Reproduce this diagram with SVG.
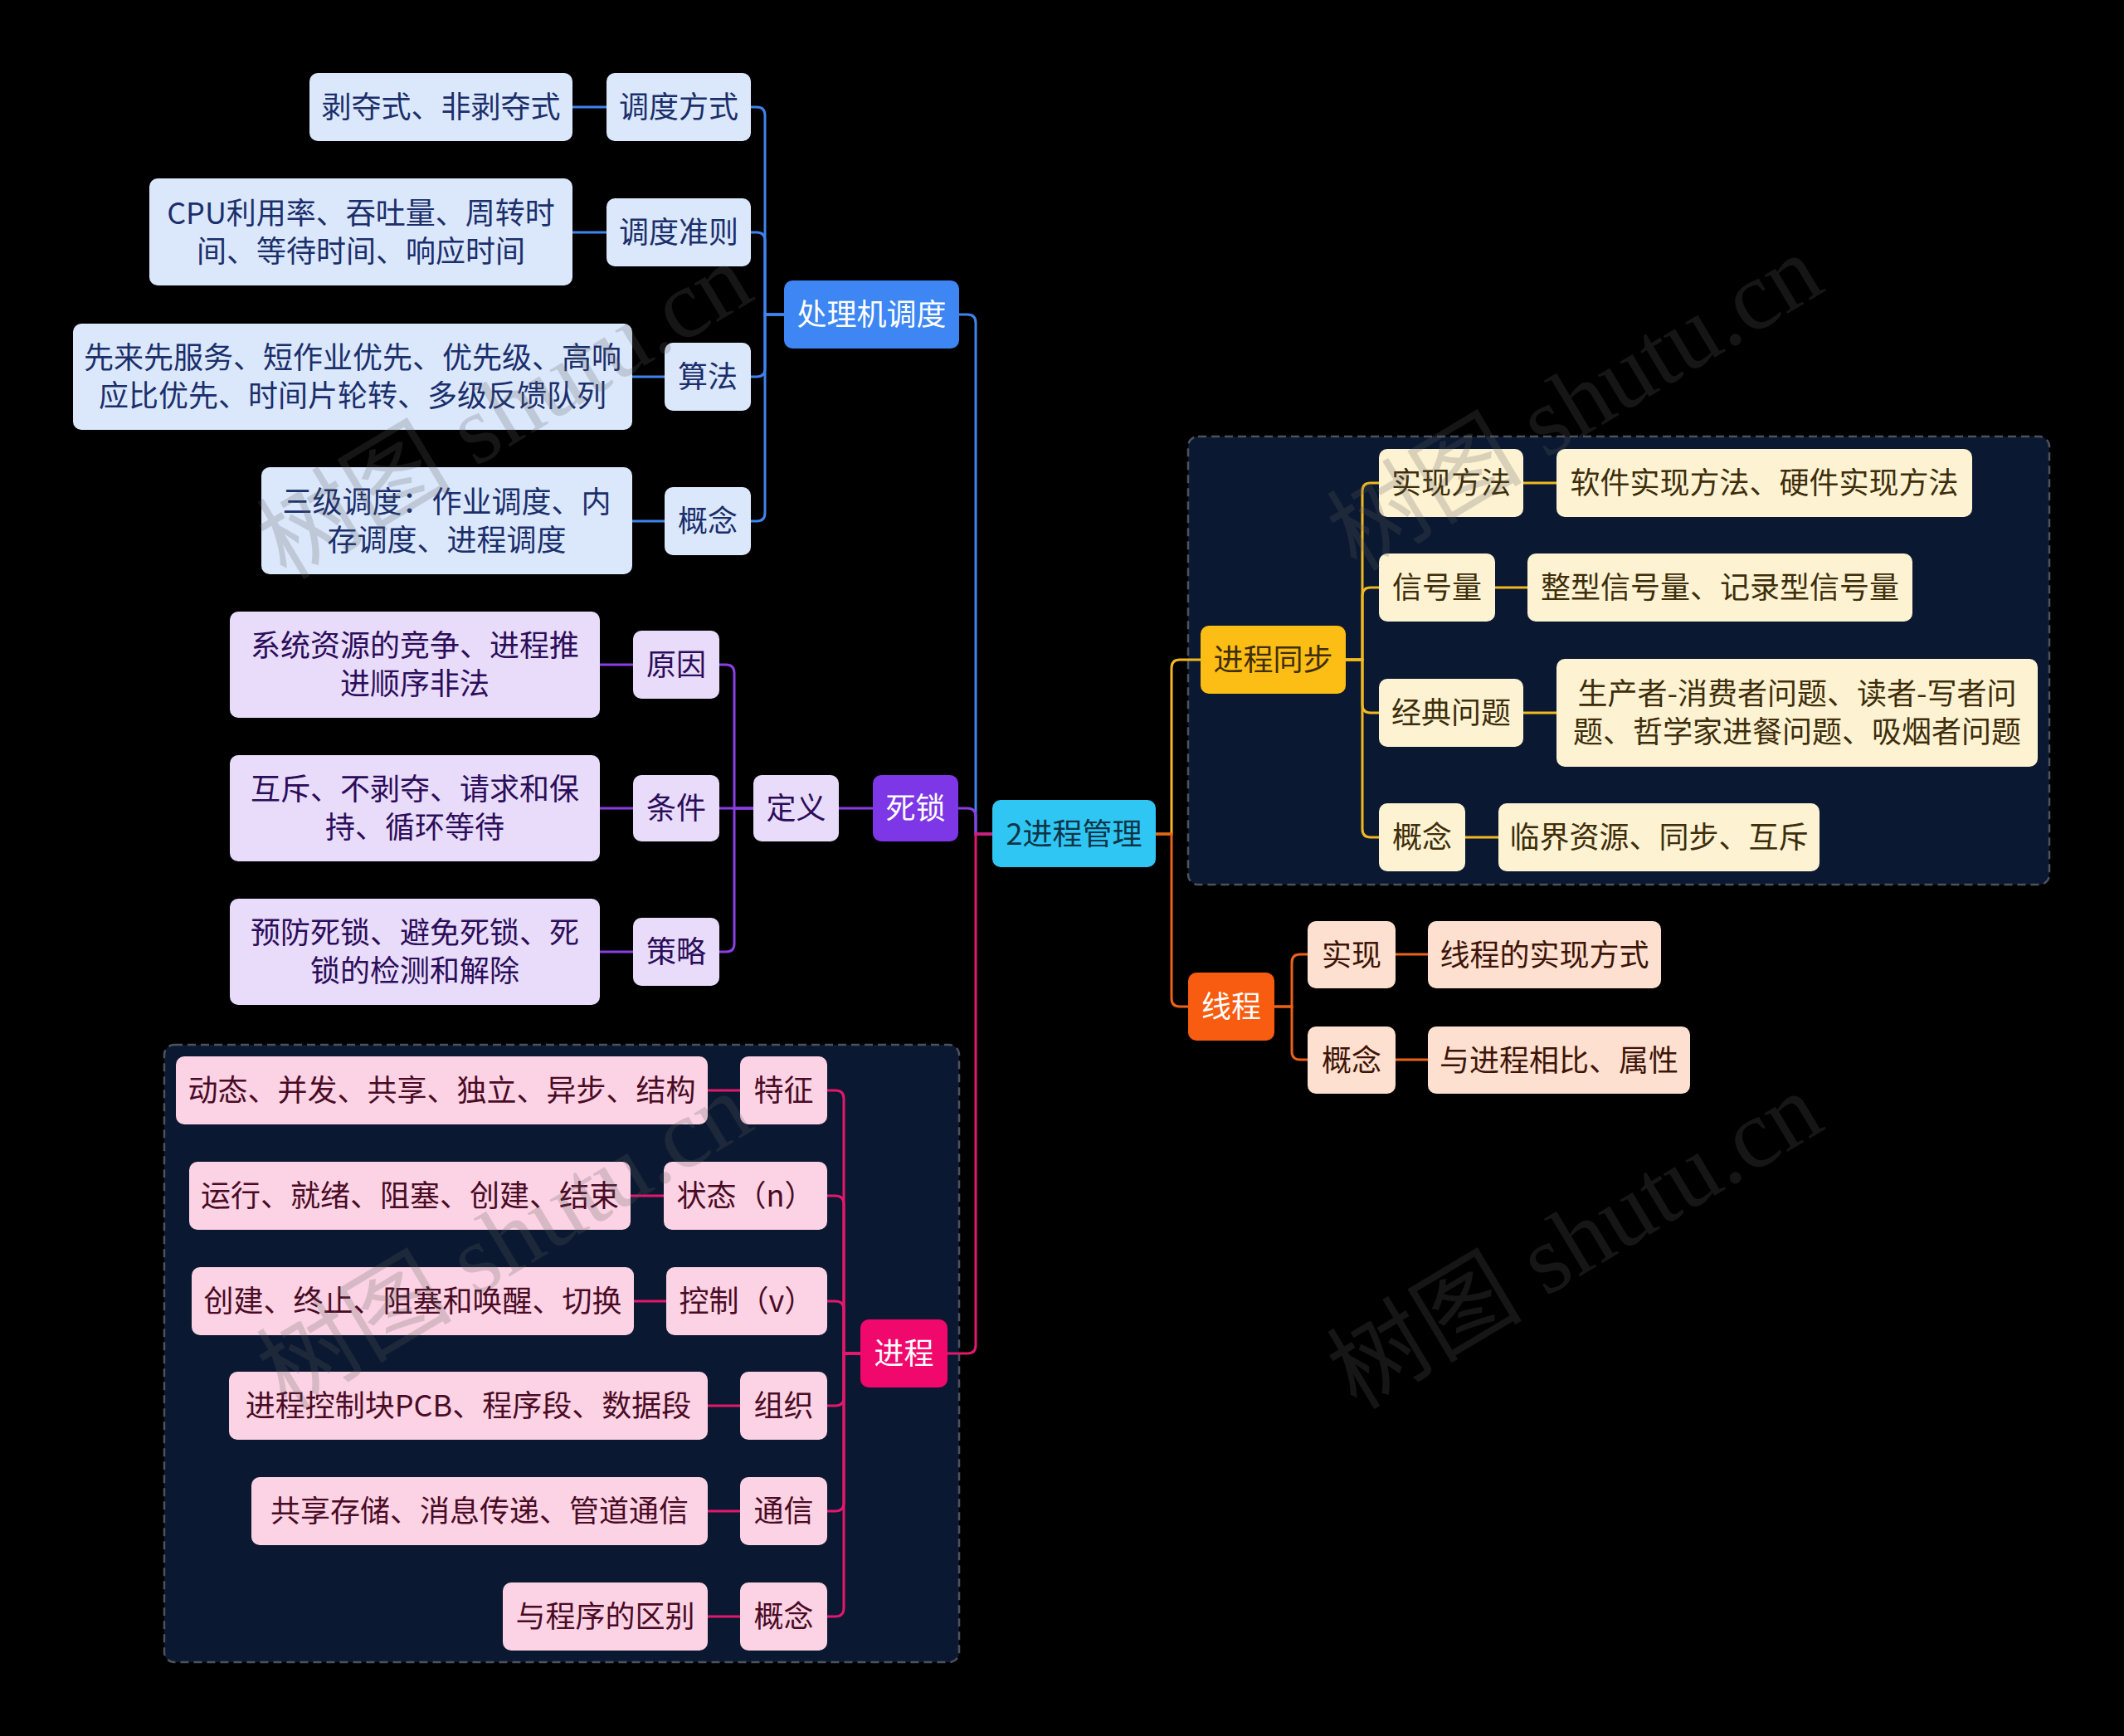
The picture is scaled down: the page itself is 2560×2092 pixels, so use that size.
<svg xmlns="http://www.w3.org/2000/svg" width="2560" height="2092" viewBox="0 0 2560 2092">
<style>
text{font-family:"Noto Sans CJK SC","Noto Sans",sans-serif;font-size:36px;text-anchor:middle;dominant-baseline:central}
.g text{transform:translateY(-3px)}
.c{fill:none;stroke-width:3}
.cb{stroke:#3f84ee}.cp{stroke:#8a3ee4}.ck{stroke:#e3186c}.cy{stroke:#f1b821}.co{stroke:#ea6318}
.b1{fill:#3d86f3}.b2{fill:#dbe8fc}.tb{fill:#1b2f6b}
.p1{fill:#7e37e6}.p2{fill:#e8dcfa}.tp{fill:#2c0d5a}
.k1{fill:#f0086d}.k2{fill:#fcd3e4}.tk{fill:#4a0b25}
.y1{fill:#fcbd15}.y2{fill:#fdf3d3}.ty{fill:#3e2e0b}
.o1{fill:#f85c10}.o2{fill:#fde0cf}.to{fill:#3e1408}
.w{fill:#ffffff}
.box{fill:#0b1831;stroke:#4d525c;stroke-width:2.5;stroke-dasharray:10 6}
.wm{font-family:"Liberation Serif","Noto Sans CJK SC",serif;font-size:118px;fill:#5f5f5f;fill-opacity:0.23;text-anchor:start;dominant-baseline:auto}
</style>
<rect x="0" y="0" width="2560" height="2092" fill="#000000"/>
<rect class="box" x="1432" y="526" width="1038" height="540" rx="12"/>
<rect class="box" x="198" y="1259" width="958" height="744" rx="12"/>
<g id="connectors">
<path class="c cb" d="M1196 1005 H1176 V389 Q1176 379 1166 379 H1156"/>
<path class="c cp" d="M1196 1005 H1176 V984 Q1176 974 1166 974 H1155"/>
<path class="c ck" d="M1196 1005 H1176 V1621 Q1176 1631 1166 1631 H1142"/>
<path class="c cy" d="M1393 1005 H1412 V805 Q1412 795 1422 795 H1447"/>
<path class="c co" d="M1393 1005 H1412 V1203 Q1412 1213 1422 1213 H1432"/>
<path class="c cb" d="M945 379 H922 V139 Q922 129 912 129 H905"/>
<path class="c cb" d="M945 379 H922 V290 Q922 280 912 280 H905"/>
<path class="c cb" d="M945 379 H922 V444 Q922 454 912 454 H905"/>
<path class="c cb" d="M945 379 H922 V618 Q922 628 912 628 H905"/>
<path class="c cb" d="M731 129 H690 M731 280 H690 M801 454 H762 M801 628 H762"/>
<path class="c cp" d="M1052 974 H1011"/>
<path class="c cp" d="M908 974 H885 V811 Q885 801 875 801 H867"/>
<path class="c cp" d="M908 974 H867"/>
<path class="c cp" d="M908 974 H885 V1137 Q885 1147 875 1147 H867"/>
<path class="c cp" d="M763 801 H723 M763 974 H723 M763 1147 H723"/>
<path class="c ck" d="M1037 1631 H1017 V1324 Q1017 1314 1007 1314 H997"/>
<path class="c ck" d="M1037 1631 H1017 V1451 Q1017 1441 1007 1441 H997"/>
<path class="c ck" d="M1037 1631 H1017 V1578 Q1017 1568 1007 1568 H997"/>
<path class="c ck" d="M1037 1631 H1017 V1684 Q1017 1694 1007 1694 H997"/>
<path class="c ck" d="M1037 1631 H1017 V1811 Q1017 1821 1007 1821 H997"/>
<path class="c ck" d="M1037 1631 H1017 V1938 Q1017 1948 1007 1948 H997"/>
<path class="c ck" d="M892 1314 H853 M800 1441 H760 M803 1568 H764 M892 1694 H853 M892 1821 H853 M892 1948 H853"/>
<path class="c cy" d="M1622 795 H1642 V592 Q1642 582 1652 582 H1662"/>
<path class="c cy" d="M1622 795 H1642 V718 Q1642 708 1652 708 H1662"/>
<path class="c cy" d="M1622 795 H1642 V849 Q1642 859 1652 859 H1662"/>
<path class="c cy" d="M1622 795 H1642 V999 Q1642 1009 1652 1009 H1662"/>
<path class="c cy" d="M1836 582 H1876 M1802 708 H1841 M1836 859 H1876 M1766 1009 H1806"/>
<path class="c co" d="M1536 1213 H1557 V1160 Q1557 1150 1567 1150 H1576"/>
<path class="c co" d="M1536 1213 H1557 V1267 Q1557 1277 1567 1277 H1576"/>
<path class="c co" d="M1682 1150 H1721 M1682 1277 H1721"/>
</g>
<g class="g">
<g id="root"><rect x="1196" y="964" width="197" height="81" rx="10" fill="#2fc6f3"/><text x="1294.5" y="1004.5" fill="#0d3447">2进程管理</text></g>
<g id="n-cljdd"><rect class="b1" x="945" y="338" width="211" height="82" rx="10"/><text class="w" x="1050.5" y="379">处理机调度</text></g>
<g id="n-ddfs"><rect class="b2" x="731" y="88" width="174" height="82" rx="10"/><text class="tb" x="818" y="129">调度方式</text></g>
<g id="n-bds"><rect class="b2" x="373" y="88" width="317" height="82" rx="10"/><text class="tb" x="531.5" y="129">剥夺式、非剥夺式</text></g>
<g id="n-ddzz"><rect class="b2" x="731" y="239" width="174" height="82" rx="10"/><text class="tb" x="818" y="280">调度准则</text></g>
<g id="n-cpu"><rect class="b2" x="180" y="215" width="510" height="129" rx="10"/><text class="tb" x="435" y="257">CPU利用率、吞吐量、周转时</text><text class="tb" x="435" y="303">间、等待时间、响应时间</text></g>
<g id="n-sf"><rect class="b2" x="801" y="413" width="104" height="82" rx="10"/><text class="tb" x="853" y="454">算法</text></g>
<g id="n-xlxfw"><rect class="b2" x="88" y="390" width="674" height="128" rx="10"/><text class="tb" x="425" y="431">先来先服务、短作业优先、优先级、高响</text><text class="tb" x="425" y="477">应比优先、时间片轮转、多级反馈队列</text></g>
<g id="n-gn1"><rect class="b2" x="801" y="587" width="104" height="82" rx="10"/><text class="tb" x="853" y="628">概念</text></g>
<g id="n-sjdd"><rect class="b2" x="315" y="563" width="447" height="129" rx="10"/><text class="tb" x="538.5" y="605">三级调度：作业调度、内</text><text class="tb" x="538.5" y="651">存调度、进程调度</text></g>
<g id="n-sisuo"><rect class="p1" x="1052" y="934" width="103" height="80" rx="10"/><text class="w" x="1103.5" y="974">死锁</text></g>
<g id="n-dy"><rect class="p2" x="908" y="934" width="103" height="80" rx="10"/><text class="tp" x="959.5" y="974">定义</text></g>
<g id="n-yy"><rect class="p2" x="763" y="760" width="104" height="82" rx="10"/><text class="tp" x="815" y="801">原因</text></g>
<g id="n-tj"><rect class="p2" x="763" y="934" width="104" height="80" rx="10"/><text class="tp" x="815" y="974">条件</text></g>
<g id="n-cl"><rect class="p2" x="763" y="1106" width="104" height="82" rx="10"/><text class="tp" x="815" y="1147">策略</text></g>
<g id="n-xtzy"><rect class="p2" x="277" y="737" width="446" height="128" rx="10"/><text class="tp" x="500" y="778">系统资源的竞争、进程推</text><text class="tp" x="500" y="824">进顺序非法</text></g>
<g id="n-hc"><rect class="p2" x="277" y="910" width="446" height="128" rx="10"/><text class="tp" x="500" y="951">互斥、不剥夺、请求和保</text><text class="tp" x="500" y="997">持、循环等待</text></g>
<g id="n-yf"><rect class="p2" x="277" y="1083" width="446" height="128" rx="10"/><text class="tp" x="500" y="1124">预防死锁、避免死锁、死</text><text class="tp" x="500" y="1170">锁的检测和解除</text></g>
<g id="n-jc"><rect class="k1" x="1037" y="1590" width="105" height="82" rx="10"/><text class="w" x="1089.5" y="1631">进程</text></g>
<g id="n-tz"><rect class="k2" x="892" y="1273" width="105" height="82" rx="10"/><text class="tk" x="944.5" y="1314">特征</text></g>
<g id="n-dt"><rect class="k2" x="212" y="1273" width="641" height="82" rx="10"/><text class="tk" x="532.5" y="1314">动态、并发、共享、独立、异步、结构</text></g>
<g id="n-zt"><rect class="k2" x="800" y="1400" width="197" height="82" rx="10"/><text class="tk" x="898.5" y="1441">状态（n）</text></g>
<g id="n-yx"><rect class="k2" x="228" y="1400" width="532" height="82" rx="10"/><text class="tk" x="494" y="1441">运行、就绪、阻塞、创建、结束</text></g>
<g id="n-kz"><rect class="k2" x="803" y="1527" width="194" height="82" rx="10"/><text class="tk" x="900" y="1568">控制（v）</text></g>
<g id="n-cj"><rect class="k2" x="231" y="1527" width="533" height="82" rx="10"/><text class="tk" x="497.5" y="1568">创建、终止、阻塞和唤醒、切换</text></g>
<g id="n-zz"><rect class="k2" x="892" y="1653" width="105" height="82" rx="10"/><text class="tk" x="944.5" y="1694">组织</text></g>
<g id="n-pcb"><rect class="k2" x="276" y="1653" width="577" height="82" rx="10"/><text class="tk" x="564.5" y="1694">进程控制块PCB、程序段、数据段</text></g>
<g id="n-tx"><rect class="k2" x="892" y="1780" width="105" height="82" rx="10"/><text class="tk" x="944.5" y="1821">通信</text></g>
<g id="n-gxcc"><rect class="k2" x="303" y="1780" width="550" height="82" rx="10"/><text class="tk" x="578" y="1821">共享存储、消息传递、管道通信</text></g>
<g id="n-gn2"><rect class="k2" x="892" y="1907" width="105" height="82" rx="10"/><text class="tk" x="944.5" y="1948">概念</text></g>
<g id="n-ycx"><rect class="k2" x="606" y="1907" width="247" height="82" rx="10"/><text class="tk" x="729.5" y="1948">与程序的区别</text></g>
<g id="n-jctb"><rect class="y1" x="1447" y="754" width="175" height="82" rx="10"/><text class="ty" x="1534.5" y="795">进程同步</text></g>
<g id="n-sxff"><rect class="y2" x="1662" y="541" width="174" height="82" rx="10"/><text class="ty" x="1749" y="582">实现方法</text></g>
<g id="n-rjsx"><rect class="y2" x="1876" y="541" width="501" height="82" rx="10"/><text class="ty" x="2126.5" y="582">软件实现方法、硬件实现方法</text></g>
<g id="n-xhl"><rect class="y2" x="1662" y="667" width="140" height="82" rx="10"/><text class="ty" x="1732" y="708">信号量</text></g>
<g id="n-zxxhl"><rect class="y2" x="1841" y="667" width="464" height="82" rx="10"/><text class="ty" x="2073" y="708">整型信号量、记录型信号量</text></g>
<g id="n-jdwt"><rect class="y2" x="1662" y="818" width="174" height="82" rx="10"/><text class="ty" x="1749" y="859">经典问题</text></g>
<g id="n-scz"><rect class="y2" x="1876" y="794" width="580" height="130" rx="10"/><text class="ty" x="2166" y="836">生产者-消费者问题、读者-写者问</text><text class="ty" x="2166" y="882">题、哲学家进餐问题、吸烟者问题</text></g>
<g id="n-gn3"><rect class="y2" x="1662" y="968" width="104" height="82" rx="10"/><text class="ty" x="1714" y="1009">概念</text></g>
<g id="n-ljzy"><rect class="y2" x="1806" y="968" width="387" height="82" rx="10"/><text class="ty" x="1999.5" y="1009">临界资源、同步、互斥</text></g>
<g id="n-xc"><rect class="o1" x="1432" y="1172" width="104" height="82" rx="10"/><text class="w" x="1484" y="1213">线程</text></g>
<g id="n-sx"><rect class="o2" x="1576" y="1110" width="106" height="81" rx="10"/><text class="to" x="1629" y="1150.5">实现</text></g>
<g id="n-xcsx"><rect class="o2" x="1721" y="1110" width="281" height="81" rx="10"/><text class="to" x="1861.5" y="1150.5">线程的实现方式</text></g>
<g id="n-gn4"><rect class="o2" x="1576" y="1237" width="106" height="81" rx="10"/><text class="to" x="1629" y="1277.5">概念</text></g>
<g id="n-yjcxb"><rect class="o2" x="1721" y="1237" width="316" height="81" rx="10"/><text class="to" x="1879" y="1277.5">与进程相比、属性</text></g>
</g>
<g id="watermarks">
<text class="wm" transform="translate(345,700) rotate(-31)">树图 shutu.cn</text>
<text class="wm" transform="translate(1635,690) rotate(-31)">树图 shutu.cn</text>
<text class="wm" transform="translate(345,1700) rotate(-31)">树图 shutu.cn</text>
<text class="wm" transform="translate(1635,1700) rotate(-31)">树图 shutu.cn</text>
</g>
</svg>
